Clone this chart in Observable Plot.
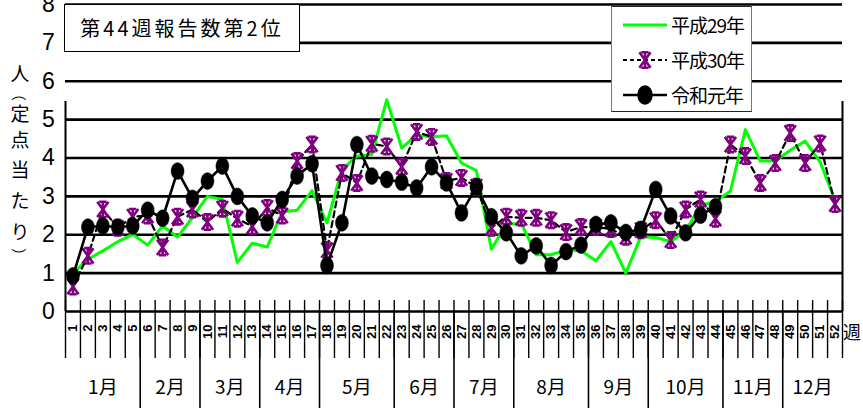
<!DOCTYPE html>
<html>
<head>
<meta charset="utf-8">
<script src="https://cdn.jsdelivr.net/npm/d3@7"></script>
<script src="https://cdn.jsdelivr.net/npm/@observablehq/plot@0.6"></script>
<style>
  html, body { margin: 0; padding: 0; background: #fff; }
  #wrap { position: relative; width: 863px; height: 408px; overflow: hidden;
          font-family: "Noto Sans CJK JP", "Liberation Sans", sans-serif; color: #000; }
  #wrap > svg { position: absolute; left: 0; top: 0; }
  .box { position: absolute; background: #fff; box-sizing: border-box; }
  #titleBox { left: 64px; top: 4px; width: 236px; height: 48px; border: 1.5px solid #000;
              font-size: 20px; letter-spacing: 3px; line-height: 46px; text-align: center; }
  #legend { left: 611px; top: 6px; width: 141px; height: 106px; border: 1.5px solid #777;
            border-bottom-color: #222; border-top-color: #222; }
  .legItem { position: absolute; left: 10px; height: 30px; display: flex; align-items: center; }
  .legItem svg { display: block; }
  .legItem span { font-size: 19px; margin-left: 3px; letter-spacing: -1px; line-height: 30px; }
  #yTitle { position: absolute; left: 8px; top: 59px; width: 24px; font-size: 19px; }
  #yTitle div { display: flex; align-items: center; justify-content: center; line-height: 1; }
  #yTitle span { display: inline-block; line-height: 1; }
  #yTitle span.br { font-size: 15px; transform: rotate(90deg); }
  #xUnit { position: absolute; left: 843px; top: 318px; font-size: 18px; }
</style>
</head>
<body>
<div id="wrap"></div>
<script>
// Weekly reports per sentinel site, by week of year
const weeks = d3.range(1, 53);
const h29 = [1.0, 1.36, 1.58, 1.82, 2.01, 1.73, 2.23, 1.94, 2.45, 3.0,
             2.92, 1.28, 1.78, 1.68, 2.6, 2.64, 3.15, 2.31, 3.7, 4.05,
             4.09, 5.52, 4.26, 4.6, 4.55, 4.58, 3.87, 3.67, 1.62, 2.27,
             2.3, 1.48, 1.48, 1.6, 1.58, 1.32, 1.82, 1.0, 1.95, 1.93,
             1.82, 2.1, 2.77, 2.86, 3.14, 4.74, 3.92, 3.92, 4.2, 4.44, 3.9, 2.9];
const h30 = [0.65, 1.45, 2.66, 2.18, 2.47, 2.5, 1.67, 2.47, 2.66, 2.33,
             2.68, 2.42, 2.22, 2.7, 2.5, 3.92, 4.35, 1.6, 3.61, 3.35,
             4.37, 4.3, 3.77, 4.68, 4.55, 3.4, 3.48, 3.25, 2.18, 2.47,
             2.44, 2.44, 2.38, 2.07, 2.2, 2.2, 2.15, 1.95, 2.12, 2.38,
             1.86, 2.66, 2.92, 2.42, 4.35, 4.05, 3.35, 3.87, 4.65, 3.87, 4.38, 2.8];
const r1 = [0.93, 2.2, 2.23, 2.2, 2.23, 2.64, 2.43, 3.66, 2.95, 3.4,
            3.79, 3.0, 2.49, 2.31, 2.92, 3.53, 3.85, 1.2, 2.31, 4.35,
            3.53, 3.44, 3.37, 3.22, 3.77, 3.35, 2.57, 3.25, 2.47, 2.05,
            1.45, 1.71, 1.2, 1.56, 1.73, 2.27, 2.31, 2.06, 2.14, 3.18,
            2.49, 2.05, 2.51, 2.73];
const yTicks = [0, 1, 2, 3, 4, 5, 6, 7, 8];
const monthNames = ["1月", "2月", "3月", "4月", "5月", "6月", "7月", "8月", "9月", "10月", "11月", "12月"];
const monthLastWeek = [5, 9, 13, 17, 22, 26, 30, 35, 39, 44, 48, 52];
const seriesNames = ["平成29年", "平成30年", "令和元年"];
const titleText = "第44週報告数第2位";
const yTitleChars = ["人", "（", "定", "点", "当", "た", "り", "）"];
const xUnitText = "週";

const GREEN = "#00ff00", PURPLE = "#800080";

const toRows = (vals) => vals.map((v, i) => ({week: weeks[i], value: v}));
const rowsH29 = toRows(h29), rowsH30 = toRows(h30), rowsR1 = toRows(r1);

// month spans in week units
const monthSpans = monthNames.map((name, i) => {
  const first = i === 0 ? 1 : monthLastWeek[i - 1] + 1;
  return {name, mid: (first - 0.5 + monthLastWeek[i] + 0.5) / 2};
});
const weekBounds = d3.range(0, 53).map(d => d + 0.5);
const monthBounds = monthLastWeek.slice(0, -1).map(d => d + 0.5);

// Marker shapes: tall ellipse and an asterisk with caps
const ellipseSymbol = {
  draw(ctx, size) {
    const r = Math.sqrt(size / Math.PI), rx = r * 0.92, ry = r * 1.2, k = 0.5523;
    ctx.moveTo(rx, 0);
    ctx.bezierCurveTo(rx, ry * k, rx * k, ry, 0, ry);
    ctx.bezierCurveTo(-rx * k, ry, -rx, ry * k, -rx, 0);
    ctx.bezierCurveTo(-rx, -ry * k, -rx * k, -ry, 0, -ry);
    ctx.bezierCurveTo(rx * k, -ry, rx, -ry * k, rx, 0);
    ctx.closePath();
  }
};
const starSymbol = {
  draw(ctx, size) {
    const r = Math.sqrt(size / Math.PI), w = r * 0.8, h = r * 1.1;
    ctx.moveTo(-w, -h); ctx.lineTo(w, h);
    ctx.moveTo(w, -h); ctx.lineTo(-w, h);
    ctx.moveTo(0, -h); ctx.lineTo(0, h);
    ctx.moveTo(-w * 0.65, -h); ctx.lineTo(w * 0.65, -h);
    ctx.moveTo(-w * 0.65, h); ctx.lineTo(w * 0.65, h);
  }
};

const numFont = "'Liberation Sans Narrow', 'Liberation Sans', sans-serif";

const chart = Plot.plot({
  width: 863,
  height: 408,
  marginLeft: 65,
  marginRight: 21,
  marginTop: 4,
  marginBottom: 97,
  x: {domain: [0.5, 52.5], axis: null},
  y: {domain: [0, 8], axis: null},
  style: {background: "transparent", overflow: "visible"},
  marks: [
    // horizontal gridlines
    Plot.ruleY(yTicks, {y: d => d, stroke: "#000", strokeWidth: 2.6}),
    // frame sides, running down through the month band
    Plot.ruleX([0.5, 52.5], {x: d => d, y1: 0, y2: 8, insetBottom: -97, stroke: "#000", strokeWidth: 2}),
    // week ticks
    Plot.ruleX(weekBounds, {x: d => d, y1: 0, y2: 0, insetTop: -11, insetBottom: -47, stroke: "#000", strokeWidth: 1.4}),
    // month separators
    Plot.ruleX(monthBounds, {x: d => d, y1: 0, y2: 0, insetBottom: -97, stroke: "#000", strokeWidth: 1.6}),
    // y tick labels
    Plot.text(yTicks, {x: 0.5, y: d => d, text: d => String(d), dx: -17, textAnchor: "middle",
      fontSize: 23, fontFamily: numFont, fill: "#000"}),
    // week labels
    Plot.text(weeks, {x: d => d, y: 0, text: d => String(d), rotate: -90, textAnchor: "end",
      dy: 13, fontSize: 13, fontWeight: "bold", fontFamily: numFont, fill: "#000"}),
    // month labels
    Plot.text(monthSpans, {x: "mid", y: 0, text: "name", dy: 76, fontSize: 19,
      fontFamily: "'Noto Sans CJK JP', sans-serif", fill: "#000"}),
    // series
    Plot.line(rowsH29, {x: "week", y: "value", stroke: GREEN, strokeWidth: 3}),
    Plot.line(rowsH30, {x: "week", y: "value", stroke: "#000", strokeWidth: 2.2, strokeDasharray: "6,4"}),
    Plot.dot(rowsH30, {x: "week", y: "value", symbol: starSymbol, r: 7, stroke: PURPLE, strokeWidth: 2.6, fill: "none"}),
    Plot.line(rowsR1, {x: "week", y: "value", stroke: "#000", strokeWidth: 2.6}),
    Plot.dot(rowsR1, {x: "week", y: "value", symbol: ellipseSymbol, r: 7, fill: "#000", stroke: "#000", strokeWidth: 0.5})
  ]
});

const wrap = document.getElementById("wrap");
wrap.appendChild(chart);

// title box
const tb = document.createElement("div");
tb.id = "titleBox"; tb.className = "box"; tb.textContent = titleText;
wrap.appendChild(tb);

// legend
const legend = document.createElement("div");
legend.id = "legend"; legend.className = "box";
wrap.appendChild(legend);
const legendStyles = [
  {stroke: GREEN, width: 3, dash: null, symbol: null},
  {stroke: "#000", width: 2, dash: "4,3", symbol: starSymbol, symStroke: PURPLE, symFill: "none"},
  {stroke: "#000", width: 2.6, dash: null, symbol: ellipseSymbol, symStroke: "#000", symFill: "#000"}
];
seriesNames.forEach((name, i) => {
  const st = legendStyles[i];
  const item = document.createElement("div");
  item.className = "legItem";
  item.style.top = (3 + i * 35) + "px";
  const svg = d3.create("svg").attr("width", 46).attr("height", 30);
  svg.append("line").attr("x1", 1).attr("x2", 45).attr("y1", 15).attr("y2", 15)
    .attr("stroke", st.stroke).attr("stroke-width", st.width)
    .attr("stroke-dasharray", st.dash);
  if (st.symbol) {
    const p = d3.path();
    st.symbol.draw(p, Math.PI * 49);
    svg.append("path").attr("d", p.toString()).attr("transform", "translate(23,15)")
      .attr("fill", st.symFill).attr("stroke", st.symStroke).attr("stroke-width", 2.6);
  }
  item.appendChild(svg.node());
  const label = document.createElement("span");
  label.textContent = name;
  item.appendChild(label);
  legend.appendChild(item);
});

// vertical y-axis title, one glyph per row; brackets are turned a quarter
const yt = document.createElement("div");
yt.id = "yTitle";
const rowHeights = [26, 16, 22, 30, 30, 32, 30, 20];
yTitleChars.forEach((ch, i) => {
  const row = document.createElement("div");
  row.style.height = rowHeights[i] + "px";
  const s = document.createElement("span");
  s.textContent = ch;
  if (ch === "（" || ch === "）") s.className = "br";
  row.appendChild(s);
  yt.appendChild(row);
});
wrap.appendChild(yt);

const xu = document.createElement("div");
xu.id = "xUnit"; xu.textContent = xUnitText;
wrap.appendChild(xu);
</script>
</body>
</html>
